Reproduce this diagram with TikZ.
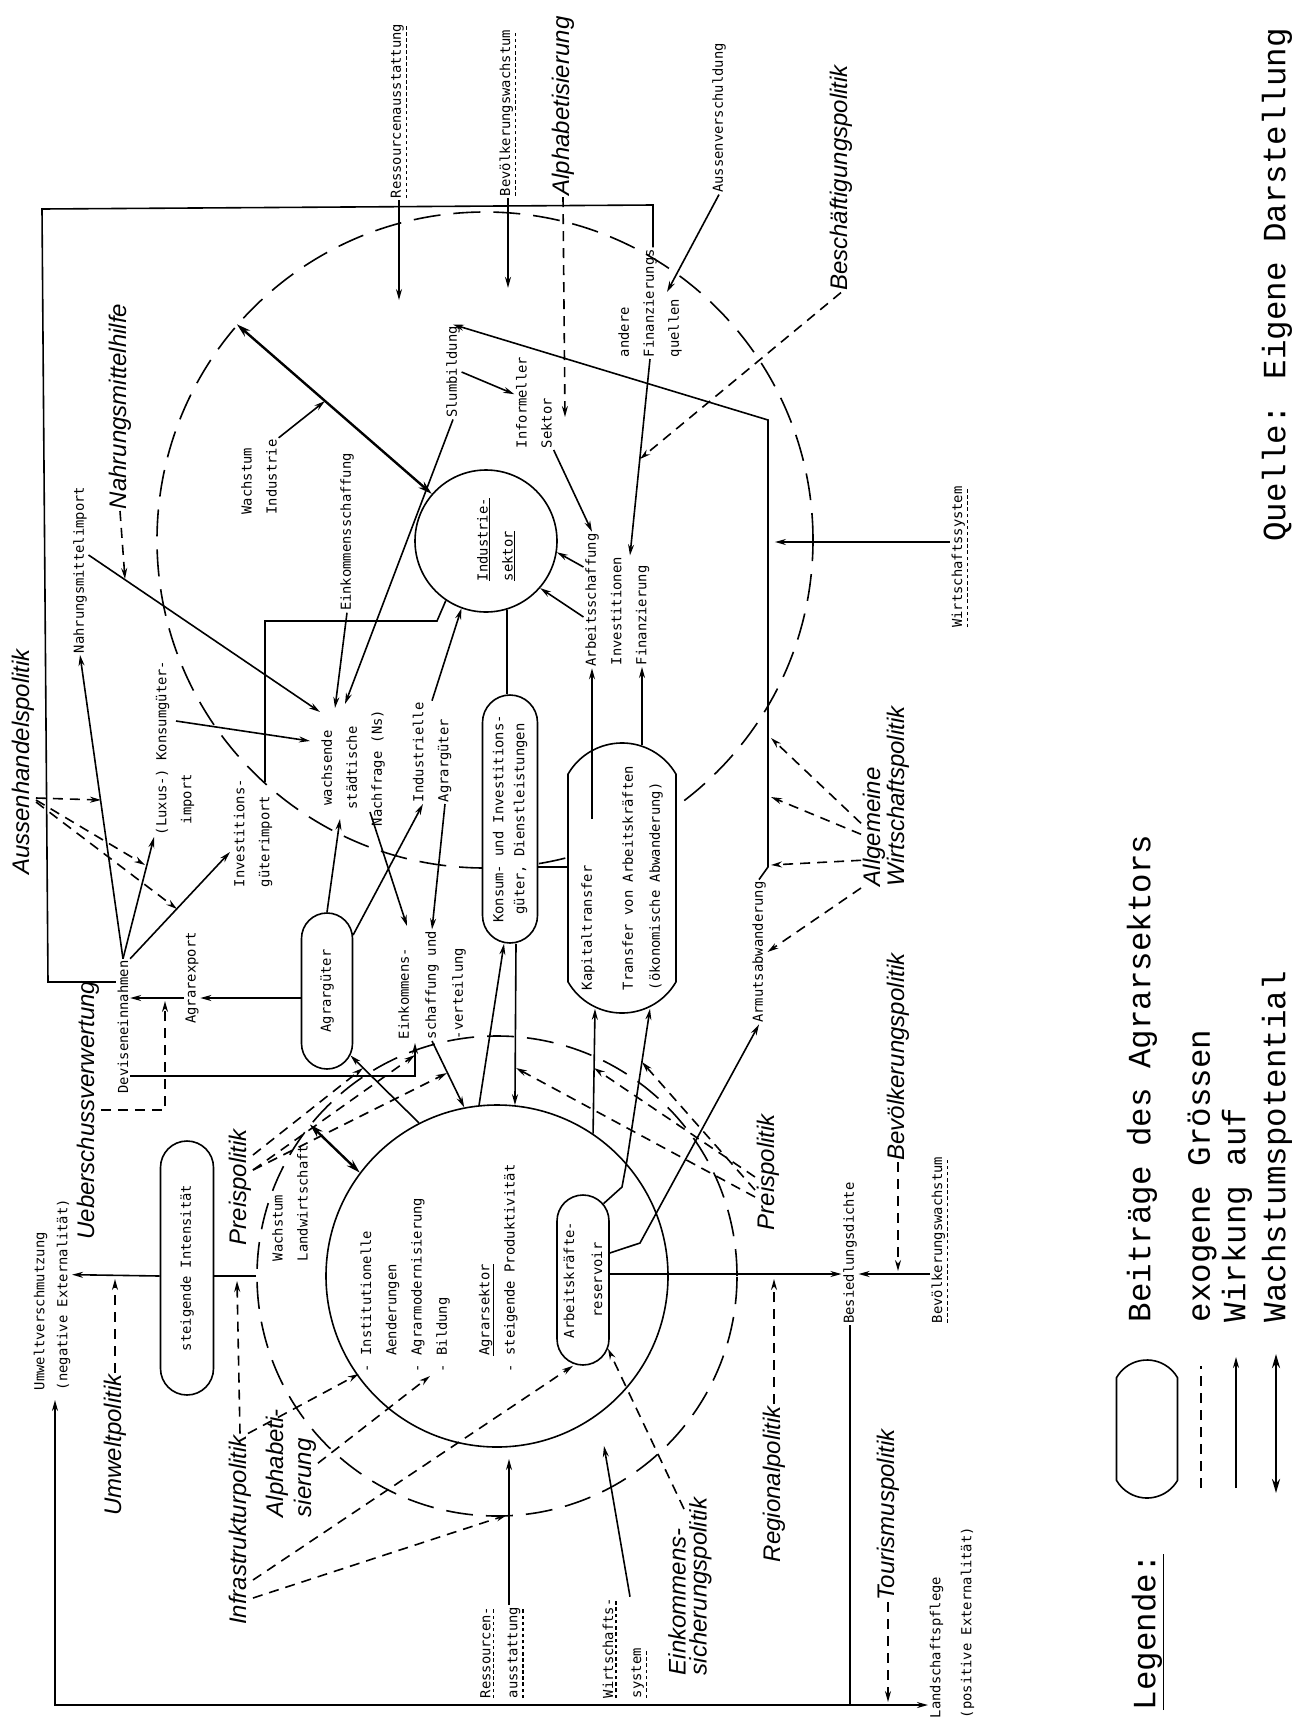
\documentclass[tikz,border=0pt]{standalone}
\usepackage{fontspec}
\usetikzlibrary{shapes.misc,arrows.meta}
\newfontfamily\plotff{DejaVu Sans Mono}
\newfontfamily\typeff{Liberation Mono}
\newfontfamily\handff{Liberation Sans Italic}
\newcommand\plotfont{\plotff\fontsize{13.8}{25}\selectfont}
\newcommand\hwfont{\handff\fontsize{24}{24}\selectfont}
\newcommand\typefont{\typeff\fontsize{32.5}{40}\selectfont}
\newsavebox\dulbox
\newcommand\dul[1]{\sbox\dulbox{#1}\leavevmode\vtop{\offinterlineskip\hbox{\usebox\dulbox}\kern2pt\hbox to\wd\dulbox{\xleaders\hbox to 6pt{\vrule width 3.5pt height 1.2pt depth 0pt\hss}\hfill}}}
\begin{document}
\begin{tikzpicture}[x=1pt,y=-1pt,line width=1.6pt,
  >={Stealth[length=11pt,width=6pt]},
  lb/.style={rotate=90,font=\plotfont,inner sep=1pt},
  hw/.style={rotate=90,font=\hwfont,inner sep=1pt},
  capsule/.style={rounded rectangle,draw,fill=white,rotate=90,font=\plotfont,inner sep=2pt,align=center},
  exo/.style={->,dash pattern=on 10pt off 7pt},
  exoline/.style={dash pattern=on 10pt off 7pt},
  ring/.style={circle,draw,dash pattern=on 27pt off 13pt,inner sep=0pt},
  core/.style={circle,draw,inner sep=0pt},
  wachs/.style={{Stealth[length=14pt,width=8pt]}-{Stealth[length=14pt,width=8pt]},line width=2.4pt},
  legtext/.style={rotate=90,font=\typefont,inner sep=1pt}]
\useasboundingbox[fill=white] (0,0) rectangle (1298,1724);

% ---------- circles ----------
\node[ring,minimum size=656pt] (indD) at (485,540) {};
\node[core,minimum size=142pt] (indC) at (486,541) {};
\node[ring,minimum size=480pt] (agrD) at (497,1276) {};
\node[core,minimum size=342pt] (agrC) at (497,1276) {};

% ---------- capsules ----------
\node[capsule,minimum width=160pt,minimum height=51pt] (agrG) at (327,991) {Agrargüter};
\node[capsule,minimum width=252pt,minimum height=55pt,font={\plotff\fontsize{13.8}{21}\selectfont}] (konsum) at (510,819) {Konsum- und Investitions-\\güter, Dienstleistungen};
\node[capsule,rounded rectangle arc length=120,minimum width=274pt,minimum height=108pt,align=left,font={\plotff\fontsize{13.8}{27}\selectfont}] (kapital) at (622,878) {Kapitaltransfer\\[14pt]Transfer von Arbeitskräften\\(ökonomische Abwanderung)};
\node[capsule,minimum width=258pt,minimum height=53pt] (intens) at (187,1268) {steigende Intensität};
\node[capsule,minimum width=174pt,minimum height=52pt,font={\plotff\fontsize{13.8}{28}\selectfont}] (resv) at (583,1280) {Arbeitskräfte-\\reservoir};

% ---------- text nodes ----------
\node[lb] (ressTop) at (399,111) {\dul{Ressourcenausstattung}};
\node[lb] (bevTop) at (508,113) {\dul{Bevölkerungswachstum}};
\node[hw] (alphaTop) at (563,106) {Alphabetisierung};
\node[lb] (aussenv) at (719,118) {Aussenverschuldung};
\node[hw] (beschPol) at (841,178) {Beschäftigungspolitik};
\node[lb,anchor=west,align=left] (andFin) at (650,359) {andere\\Finanzierungs\\quellen};
\node[lb] (slum) at (453,372) {Slumbildung};
\node[lb,anchor=west,align=left] (informell) at (534,450) {Informeller\\Sektor};
\node[lb,align=left] (vachInd) at (259,477) {Wachstum\\Industrie};
\node[lb] (einkS) at (347,532) {Einkommensschaffung};
\node[lb] (nahrImp) at (80,570) {Nahrungsmittelimport};
\node[hw,anchor=west] (nahrH) at (120,511) {Nahrungsmittelhilfe};
\node[lb,anchor=west,align=left] (indT) at (496,583) {\underline{Industrie-}\\\underline{sektor}};
\node[lb,align=center] (nachfrage) at (353,768) {wachsende\\städtische\\Nachfrage (Ns)};
\node[lb,anchor=west,align=left] (luxus) at (175,837) {(Luxus-) Konsumgüter-\\\hspace*{11pt}import};
\node[lb,anchor=west,align=left] (investImp) at (253,889) {Investitions-\\güterimport};
\node[lb,anchor=west,align=left] (indAgr) at (432,804) {Industrielle\\Agrargüter};
\node[lb] (arbs) at (592,600) {Arbeitsschaffung};
\node[lb,anchor=west,align=left] (invfin) at (630,667) {Investitionen\\Finanzierung};
\node[lb] (wsysR) at (960,557) {\dul{Wirtschaftssystem}};
\node[hw] (aussenhPol) at (23,762) {Aussenhandelspolitik};
\node[hw] (ueber) at (88,1110) {Ueberschussverwertung};
\node[lb] (devisen) at (123,1027) {Deviseneinnahmen};
\node[lb] (agrarexp) at (192,978) {Agrarexport};
\node[lb,anchor=west,align=left,font={\plotff\fontsize{13.8}{27}\selectfont}] (einkV) at (432,1041) {Einkommens-\\schaffung und\\-verteilung};
\node[lb] (armut) at (759,952) {Armutsabwanderung};
\node[hw,anchor=west,align=left] (allg) at (886,888) {Allgemeine\\Wirtschaftspolitik};
\node[hw] (bevPol) at (898,1057) {Bevölkerungspolitik};
\node[hw] (preisR) at (768,1172) {Preispolitik};
\node[hw] (preisL) at (240,1187) {Preispolitik};
\node[lb,anchor=west,align=left,font={\plotff\fontsize{13.8}{23}\selectfont}] (umweltV) at (52,1392) {Umweltverschmutzung\\(negative Externalität)};
\node[hw] (umweltPol) at (115,1445) {Umweltpolitik};
\node[lb,anchor=west,align=left] (wachsL) at (290,1263) {Wachstum\\Landwirtschaft};
\node[lb,anchor=west,align=left,font={\plotff\fontsize{13.8}{25.3}\selectfont}] (agrT) at (439,1374) {- Institutionelle\\\hspace*{16.6pt}Aenderungen\\- Agrarmodernisierung\\- Bildung\\[17pt]\hspace*{16.6pt}\underline{Agrarsektor}\\- steigende Produktivität};
\node[lb] (besied) at (850,1253) {Besiedlungsdichte};
\node[lb] (bevBot) at (940,1240) {\dul{Bevölkerungswachstum}};
\node[hw] (infraPol) at (240,1530) {Infrastrukturpolitik};
\node[hw,anchor=west,align=left,font={\handff\fontsize{24}{28}\selectfont}] (alphaL) at (291,1519) {Alphabeti-\\sierung};
\node[lb,anchor=west,align=left,font={\plotff\fontsize{13.8}{27}\selectfont}] (ressBot) at (502,1700) {\dul{Ressourcen-}\\\dul{ausstattung}};
\node[lb,anchor=west,align=left,font={\plotff\fontsize{13.8}{28}\selectfont}] (wsysB) at (625,1700) {\dul{Wirtschafts-}\\\dul{system}};
\node[hw,anchor=west,align=left,font={\handff\fontsize{24}{21}\selectfont}] (einkSich) at (690,1677) {Einkommens-\\sicherungspolitik};
\node[hw] (regPol) at (774,1484) {Regionalpolitik};
\node[hw] (tourPol) at (888,1515) {Tourismuspolitik};
\node[lb,anchor=west,align=left,font={\plotff\fontsize{13.8}{31}\selectfont}] (landsch) at (952,1720) {Landschaftspflege\\(positive Externalität)};

% ---------- free-end coordinates ----------
\coordinate (nfA) at (310,741);
\coordinate (nfB) at (320,712);
\coordinate (nfC) at (335,708);
\coordinate (nfD) at (345,704);
\coordinate (nfE) at (340,819);
\coordinate (nfF) at (370,812);
\coordinate (luxS) at (176,721);
\coordinate (invTip) at (230,852);
\coordinate (ekTip) at (407,926);
\coordinate (ekTip2) at (415,1043);
\coordinate (giStart) at (265,782);
\coordinate (giBend) at (265,621);
\coordinate (giBend2) at (437,621);
\coordinate (wpMid) at (325,401);
\coordinate (nhTip) at (125,579);
\coordinate (finMid) at (640,459);
\coordinate (alphaTip) at (565,417);
\coordinate (aussTip) at (667,292);
\coordinate (slumL) at (768,420);
\coordinate (slumB) at (768,867);
\coordinate (t1) at (101,800);
\coordinate (t2) at (145,865);
\coordinate (t3) at (177,909);
\coordinate (fr1) at (48,982);
\coordinate (fr2) at (42,209);
\coordinate (fr3) at (653,205);
\coordinate (rb1) at (622,1187);
\coordinate (rb2) at (627,1160);
\coordinate (ra1) at (640,1243);
\coordinate (bc) at (850,1705);
\coordinate (bl) at (55,1705);
\coordinate (bevTip) at (898,1271);
\coordinate (regTip) at (774,1279);
\coordinate (tourTip) at (888,1702);
\coordinate (uwTip) at (115,1279);
\coordinate (infTip) at (237,1281);
\coordinate (ressMid) at (507,1515);
\coordinate (ressTip) at (509,1459);
\coordinate (wsTip) at (604,1446);
\coordinate (bildTip) at (430,1376);
\coordinate (esStart) at (684,1509);
\coordinate (plA) at (363,1068);
\coordinate (plB) at (415,1055);
\coordinate (plC) at (447,1073);
\coordinate (prA) at (642,1062);
\coordinate (prB) at (594,1068);
\coordinate (prC) at (516,1068);
\coordinate (alA) at (771,738);
\coordinate (alB) at (771,797);
\coordinate (alC) at (771,865);
\coordinate (ueTip) at (165,1001);

% ---------- connectors ----------
% frame
\draw ([yshift=45pt]devisen.north) -- (fr1) -- (fr2) -- (fr3) -- ([xshift=3pt]andFin.east);
% top exogenous
\draw[->] (ressTop.west) -- ++(0,100);
\draw[->] (bevTop.west) -- ++(0,90);
\draw[exo] (alphaTop.west) -- (alphaTip);
\draw[->] (aussenv.west) -- (aussTip);
\draw[exo] (beschPol.west) -- (finMid);
\draw[->] (andFin.west) -- (invfin.east);
% slum
\draw[->] (armut.east) -- (slumB) -- (slumL) -- (slum.east);
\draw[->] ([yshift=15pt]wsysR.north) -- ++(-175,0);
\draw[->] (slum.south) -- (informell);
\draw[->] (informell.south west) -- (arbs.east);
\draw[->] ([yshift=33pt]arbs.north) -- (indC.-9);
\draw[->] ([yshift=-17pt]arbs.north) -- (indC.-41);
% growth potential industry
\draw[wachs] (indC.139) -- (indD.139);
\draw[->] (vachInd.south east) -- (wpMid);
% demand
\draw[->] (einkS.west) -- (nfC);
\draw[->] (slum.west) -- (nfD);
\draw[->] ([yshift=15pt]nahrImp.south) -- (nfB);
\draw[exo] (nahrH.west) -- (nhTip);
\draw[->] (devisen.east) -- (nahrImp.west);
\draw[->] (devisen.east) -- (luxus.north west);
\draw[->] (devisen.south east) -- (invTip);
\draw[exo] ([yshift=-36pt]aussenhPol.south) -- (t1);
\draw[exo] ([yshift=-38pt]aussenhPol.south) -- (t2);
\draw[exo] ([yshift=-40pt]aussenhPol.south) -- (t3);
\draw[->] (luxS) -- (nfA);
\draw (giStart) -- (giBend) -- (giBend2) -- (indC.236);
\draw[->] (nfF) -- (ekTip);
\draw[->] (indAgr.east) -- (indC.250);
\draw[->] ([xshift=13pt]indAgr.west) -- (einkV.east);
\draw[->] (agrG.east) -- (nfE);
\draw[->] (agrG.-25) -- ([xshift=12pt]indAgr.north west);
\draw[->] ([yshift=-7pt]agrG.north) -- ([yshift=-20pt]agrarexp.south);
\draw[->] ([yshift=-20pt]agrarexp.north) -- ([yshift=29pt]devisen.south);
\draw[exo] (ueber.south) -| (ueTip);
\draw[->] ([yshift=-49pt]devisen.south) -| (ekTip2);
\draw[->] (agrC.117) -- (agrG.-160);
\draw[->] (einkV.west) -- (agrC.101);
% consumption / capital
\draw[->] (agrC.96) -- ([xshift=-6pt]konsum.west);
\draw[->] ([xshift=6pt]konsum.west) -- (agrC.84);
\draw ([xshift=-3pt]konsum.east) -- (indC.-73);
\draw ([yshift=-48pt]konsum.south) -- ++(31,0);
\draw[->] ([xshift=-30pt,yshift=59pt]kapital.center) -- (arbs.west);
\draw[->] ([xshift=20pt,yshift=-3pt]kapital.east) -- ([xshift=12pt]invfin.west);
\draw[->] (agrC.56) -- ([xshift=-27pt,yshift=5pt]kapital.west);
\draw[->] (resv.-15) -- (rb1) -- (rb2) -- ([xshift=28pt,yshift=5pt]kapital.west);
\draw[->] ([yshift=27pt]resv.south) -- (ra1) -- (armut.west);
\draw[->] ([yshift=6pt]resv.south) -- ([yshift=-21pt]besied.north);
% settlement
\draw (besied.west) -- (bc);
\draw[->] (bc) -- (bl) -- ([xshift=3pt,yshift=-8pt]umweltV.west);
\draw[->] (bc) -- ([yshift=15pt]landsch.north west);
\draw[->] ([yshift=-34pt]bevBot.north) -- ([yshift=-21pt]besied.south);
\draw[exo] (bevPol.west) -- (bevTip);
\draw[exo] (regPol.east) -- (regTip);
\draw[exo] (tourPol.west) -- (tourTip);
\draw[exo] (umweltPol.east) -- (uwTip);
% intensity
\draw[->] ([yshift=-8pt]intens.north) -- ([yshift=20pt]umweltV.south);
\draw (agrD.180) -- ([yshift=-8pt]intens.south);
% infrastructure etc.
\draw[exo] (infraPol.east) -- (infTip);
\draw[exo] ([xshift=8pt]infraPol.east) -- (agrT.north west);
\draw[exo] ([yshift=-50pt]infraPol.south) -- ([xshift=-10pt]resv.west);
\draw[exo] ([yshift=-68pt]infraPol.south) -- (ressMid);
\draw[exo] (alphaL.south) -- (bildTip);
\draw[->] ([xshift=7pt]ressBot.east) -- (ressTip);
\draw[->] ([xshift=5pt]wsysB.east) -- (wsTip);
\draw[exo] (esStart) -- (resv.200);
% growth potential agriculture
\draw[wachs] (agrC.143) -- (agrD.141);
% price policy
\draw[exo] ([yshift=32pt]preisL.south) -- (plA);
\draw[exo] ([yshift=17pt]preisL.south) -- (plB);
\draw[exo] ([yshift=17pt]preisL.south) -- (plC);
\draw[exo] ([yshift=-18pt]preisR.north) -- (prA);
\draw[exo] ([yshift=-5pt]preisR.north) -- (prB);
\draw[exo] ([yshift=-25pt]preisR.north) -- (prC);
% general economic policy
\draw[exo] ([yshift=-27pt]allg.north) -- (alA);
\draw[exo] ([yshift=-38pt]allg.north) -- (alB);
\draw[exo] ([yshift=-64pt]allg.north) -- (alC);
\draw[exo] (allg.north west) -- (armut.south);

% ---------- legend ----------
\node[legtext,anchor=west] (legT) at (1148,1712) {\underline{Legende:}};
\node[capsule,rounded rectangle arc length=120,minimum width=142pt,minimum height=61pt] (legCap) at (1147,1429) {};
\node[legtext,anchor=west] (leg1) at (1142,1324) {Beiträge des Agrarsektors};
\coordinate (lgA1) at (1201,1488); \coordinate (lgA2) at (1201,1366);
\draw[exoline] (lgA1) -- (lgA2);
\node[legtext,anchor=west] (leg2) at (1202,1324) {exogene Grössen};
\coordinate (lgB1) at (1236,1488); \coordinate (lgB2) at (1236,1357);
\draw[->] (lgB1) -- (lgB2);
\node[legtext,anchor=west] (leg3) at (1237,1324) {Wirkung auf};
\coordinate (lgC1) at (1276,1493); \coordinate (lgC2) at (1276,1354);
\draw[wachs] (lgC1) -- (lgC2);
\node[legtext,anchor=west] (leg4) at (1277,1324) {Wachstumspotential};
\node[legtext] (quelle) at (1277,285) {Quelle: Eigene Darstellung};
\end{tikzpicture}
\end{document}
